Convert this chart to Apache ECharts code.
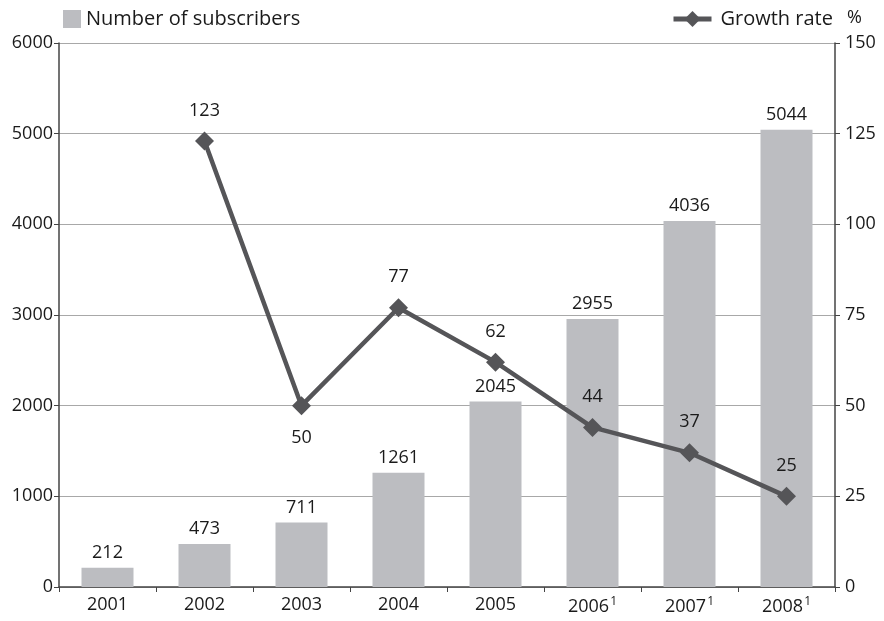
<!DOCTYPE html>
<html>
<head>
<meta charset="utf-8">
<script src="https://cdn.jsdelivr.net/npm/echarts@6/dist/echarts.min.js"></script>
<style>
  html, body { margin: 0; padding: 0; background: #fff; }
  #chart { width: 884px; height: 621px; }
</style>
</head>
<body>
<div id="chart"></div>
<script>
// Years shown on the category axis; a "1" suffix marks provisional figures
const years = ['2001', '2002', '2003', '2004', '2005', '2006', '2007', '2008'];
const footnoted = [false, false, false, false, false, true, true, true];
// Subscribers per year
const subscribers = [212, 473, 711, 1261, 2045, 2955, 4036, 5044];
// Year-on-year growth rate in percent (none for the first year)
const growthRate = [null, 123, 50, 77, 62, 44, 37, 25];
// Axis tick values
const leftTicks = [0, 1000, 2000, 3000, 4000, 5000, 6000];
const rightTicks = [0, 25, 50, 75, 100, 125, 150];

const FONT = '"Open Sans", "Noto Sans", sans-serif';
const TEXT = '#1a1a1a';
const FS = 18;

const chart = echarts.init(document.getElementById('chart'));

chart.setOption({
  animation: false,
  textStyle: { fontFamily: FONT, color: TEXT },
  grid: { left: 59, right: 49, top: 43, bottom: 34 },
  legend: [
    {
      data: [{ name: 'Number of subscribers', icon: 'rect' }],
      left: 58, top: 4,
      itemWidth: 18, itemHeight: 18, itemGap: 10,
      textStyle: { fontFamily: FONT, fontSize: 20, color: TEXT }
    },
    {
      data: ['Growth rate'],
      left: 666, top: 4,
      itemWidth: 38, itemHeight: 20,
      lineStyle: { width: 5 },
      textStyle: { fontFamily: FONT, fontSize: 20, color: TEXT, padding: [0, 0, 0, 4] }
    }
  ],
  xAxis: {
    type: 'category',
    data: years,
    axisLine: { lineStyle: { color: '#444', width: 1.5 } },
    axisTick: { show: true, length: 5, lineStyle: { color: '#444' } },
    axisLabel: {
      interval: 0,
      fontFamily: FONT, fontSize: FS, color: TEXT, margin: 9,
      formatter: (v, i) => footnoted[i] ? v + '{sup|1}' : v,
      rich: { sup: { fontSize: 12, verticalAlign: 'top', padding: [0, 0, 9, 1], fontFamily: FONT, color: TEXT } }
    }
  },
  yAxis: [
    {
      type: 'value', min: leftTicks[0], max: leftTicks[leftTicks.length - 1], interval: 1000,
      axisLine: { show: true, lineStyle: { color: '#444', width: 1.5 } },
      axisTick: { show: true, length: 5, lineStyle: { color: '#444' } },
      axisLabel: { fontFamily: FONT, fontSize: FS, color: TEXT, margin: 6, formatter: v => String(v) },
      splitLine: { show: true, lineStyle: { color: '#a8a8a8', width: 1 } }
    },
    {
      type: 'value', min: rightTicks[0], max: rightTicks[rightTicks.length - 1], interval: 25,
      position: 'right',
      name: '%', nameLocation: 'end', nameGap: 16,
      nameTextStyle: { fontFamily: FONT, fontSize: FS, color: TEXT, align: 'left', padding: [0, 0, 0, 12] },
      axisLine: { show: true, lineStyle: { color: '#444', width: 1.5 } },
      axisTick: { show: true, length: 5, lineStyle: { color: '#444' } },
      axisLabel: { fontFamily: FONT, fontSize: FS, color: TEXT, margin: 10, formatter: v => String(v) },
      splitLine: { show: false }
    }
  ],
  series: [
    {
      name: 'Number of subscribers',
      type: 'bar',
      data: subscribers,
      barWidth: 52,
      itemStyle: { color: '#bcbdc1' },
      label: { show: true, position: 'top', distance: 6, fontFamily: FONT, fontSize: FS, color: TEXT }
    },
    {
      name: 'Growth rate',
      type: 'line',
      yAxisIndex: 1,
      data: growthRate.map((v, i) => ({
        value: v,
        label: { position: i === 2 ? 'bottom' : 'top', distance: i === 2 ? 14 : 12 }
      })),
      symbol: 'diamond',
      symbolSize: 19,
      lineStyle: { color: '#555558', width: 4.5 },
      itemStyle: { color: '#555558' },
      label: { show: true, fontFamily: FONT, fontSize: FS, color: TEXT },
      z: 5
    }
  ]
});
</script>
</body>
</html>
